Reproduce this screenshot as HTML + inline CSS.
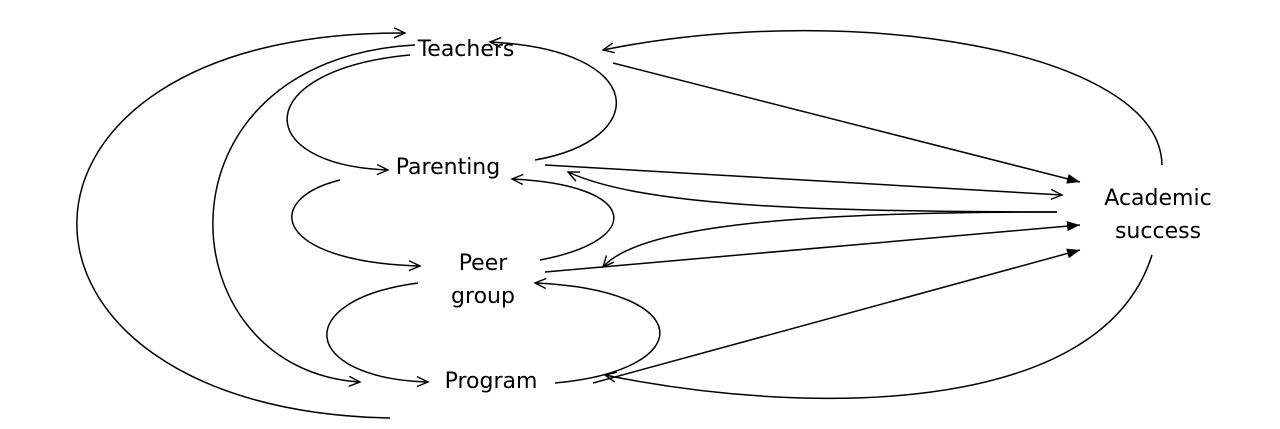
<!DOCTYPE html>
<html><head><style>
html,body{margin:0;padding:0;background:#fff;}
body{width:1280px;height:424px;overflow:hidden;}
text{font-family:"DejaVu Sans","Liberation Sans",sans-serif;font-size:22px;fill:#000;}
</style></head><body>
<svg width="1280" height="424" viewBox="0 0 1280 424" xmlns="http://www.w3.org/2000/svg">
<defs>
<marker id="o" markerWidth="14" markerHeight="12" refX="12" refY="6" orient="auto" markerUnits="userSpaceOnUse">
<path d="M1,1 L12,6 L1,11" fill="none" stroke="#000" stroke-width="1.4"/></marker>
<marker id="f" markerWidth="14" markerHeight="12" refX="13" refY="6" orient="auto" markerUnits="userSpaceOnUse">
<path d="M0,1 L13,6 L0,11 Z" fill="#000"/></marker>
</defs>
<g fill="none" stroke="#000" stroke-width="1.5">
<path d="M390,418 C -30,410 -30,30 405,33" marker-end="url(#o)"/>
<path d="M415,45 C 145,60 165,370 360,382" marker-end="url(#o)"/>
<path d="M410,55 C 250,70 250,165 388,170" marker-end="url(#o)"/>
<path d="M535,160 C 650,140 650,50 490,42" marker-end="url(#o)"/>
<path d="M340,180 C 260,200 275,262 420,266" marker-end="url(#o)"/>
<path d="M540,260 C 645,240 640,185 512,179" marker-end="url(#o)"/>
<path d="M418,283 C 290,300 300,378 428,382" marker-end="url(#o)"/>
<path d="M555,383 C 698,370 698,290 535,283" marker-end="url(#o)"/>
<path d="M613,63 L1080,182" marker-end="url(#f)"/>
<path d="M545,165 L1062,195" marker-end="url(#o)"/>
<path d="M1057,212 C 800,212 640,205 568,172" marker-end="url(#o)"/>
<path d="M1057,212 C 800,212 640,225 603,267" marker-end="url(#o)"/>
<path d="M545,272 L1080,225" marker-end="url(#f)"/>
<path d="M593,383 L1080,250" marker-end="url(#f)"/>
<path d="M1152,255 C 1100,420 800,415 605,375" marker-end="url(#o)"/>
<path d="M1162,165 C 1160,50 850,0 603,50" marker-end="url(#o)"/>
</g>
<text x="466" y="56" text-anchor="middle">Teachers</text>
<text x="448" y="174" text-anchor="middle">Parenting</text>
<text x="483" y="270" text-anchor="middle">Peer</text>
<text x="483" y="303" text-anchor="middle">group</text>
<text x="491" y="388" text-anchor="middle">Program</text>
<text x="1158" y="205" text-anchor="middle">Academic</text>
<text x="1158" y="238" text-anchor="middle">success</text>
</svg>
</body></html>
